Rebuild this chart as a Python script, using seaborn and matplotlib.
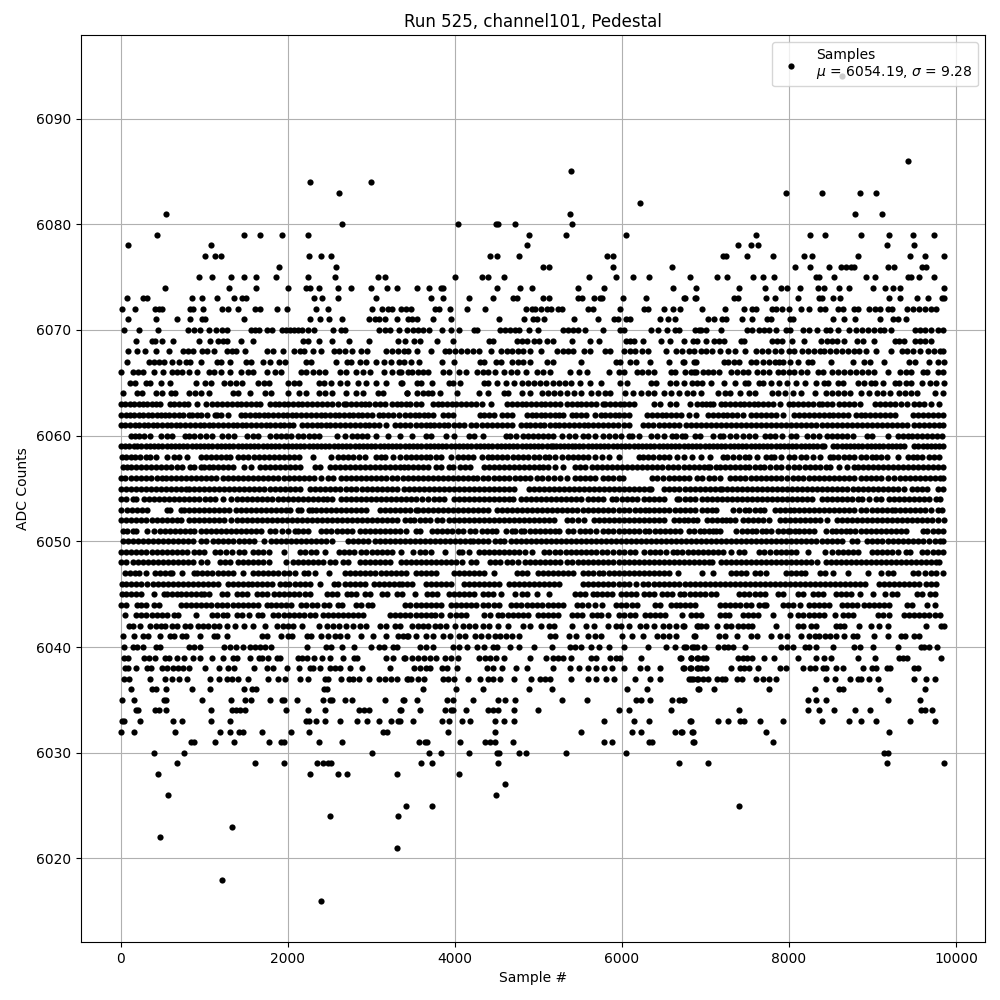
import matplotlib
matplotlib.use("Agg")
import matplotlib.pyplot as plt
import numpy as np
import pandas as pd
import seaborn as sns

# Sample numbers for each ADC level (adc_<level>). Levels outside 6043-6063 were
# read dot by dot from zoomed crops. Levels 6043-6063 are too dense for that: they
# are hand estimates of where the runs and gaps fall, not individual readings.
adc_6094 = [8631]
adc_6086 = [9423]
adc_6085 = [5397]
adc_6084 = [2272, 2992]
adc_6083 = [2620, 7959, 8391, 8847, 9039]
adc_6082 = [6213]
adc_6081 = [544, 5385, 8787, 9111]
adc_6080 = [2656, 4041, 4497, 4521, 4725, 5409]
adc_6079 = [436, 1480, 1672, 1936, 2248, 4893, 5337, 6045, 7611, 8247, 8427, 8859, 9195, 9483, 9735]
adc_6078 = [88, 1084, 4869, 7395, 7551, 7635, 9171, 9495]
adc_6077 = [1012, 1132, 1204, 2260, 2404, 2524, 4425, 4509, 4773, 5817, 5889, 7215, 7247, 7503, 7815, 8175, 8271, 8823, 9447, 9627, 9855]
adc_6076 = [1900, 2584, 5061, 5133, 5889, 6597, 8067, 8247, 8475, 8619, 8679, 8739, 8775, 9183, 9255, 9591, 9639]
adc_6075 = [940, 1096, 1324, 1480, 1624, 1864, 2248, 2572, 3076, 3160, 4005, 4329, 4401, 4593, 5601, 5925, 6129, 6321, 6813, 7143, 7263, 7575, 7695, 7827, 8319, 8355, 8535, 8919, 9027, 9423, 9459, 9555, 9735]
adc_6074 = [532, 1300, 1624, 2008, 2224, 2272, 2380, 2608, 2752, 2992, 3184, 3304, 3549, 3693, 3837, 3861, 4509, 4785, 4929, 5481, 5781, 6609, 6891, 7407, 7719, 7911, 7975, 8127, 8343, 8415, 8595, 8715, 9003, 9147, 9243, 9327, 9855]
adc_6073 = [76, 268, 316, 856, 976, 1156, 1360, 1456, 1504, 2320, 2416, 2608, 3052, 3717, 3861, 4173, 4461, 4701, 4749, 5061, 5133, 5481, 5529, 5661, 5733, 5757, 6009, 6285, 6747, 6753, 6879, 6885, 7347, 7395, 7731, 7839, 8103, 8355, 8391, 8523, 8607, 9195, 9327, 9531, 9663, 9831, 9855]
adc_6072 = [16, 172, 412, 460, 496, 832, 868, 988, 1216, 1288, 1408, 1612, 1672, 1876, 1996, 2344, 2488, 3004, 3124, 3196, 3244, 3352, 3413, 3477, 3765, 3813, 3945, 4149, 4365, 4857, 4929, 4965, 5037, 5109, 5157, 5241, 5289, 5589, 5649, 5973, 6261, 6309, 6501, 6609, 6693, 6963, 7239, 7467, 7563, 7611, 7803, 7851, 7923, 7995, 8139, 8235, 8367, 8427, 8583, 8643, 8775, 8823, 8955, 9027, 9087, 9183, 9231, 9411, 9483, 9555, 9627, 9699, 9759]
adc_6071 = [88, 424, 676, 832, 976, 1012, 1480, 2272, 2392, 2496, 2656, 2968, 3040, 3088, 3160, 3304, 3441, 3489, 3549, 3741, 3957, 4533, 4833, 4941, 4989, 5073, 5433, 5709, 5901, 5949, 6045, 6093, 6453, 6549, 6633, 7035, 7107, 7203, 7251, 7443, 7563, 7743, 7791, 8007, 8043, 8523, 8655, 8787, 9087, 9243, 9303, 9399]
adc_6070 = [40, 220, 448, 808, 880, 952, 1060, 1144, 1216, 1276, 1564, 1612, 1660, 1756, 1816, 1936, 1984, 2032, 2080, 2128, 2176, 2248, 2320, 2548, 2644, 2692, 3088, 3160, 3220, 3328, 3424, 3501, 3561, 3621, 3693, 3849, 3957, 4053, 4233, 4269, 4545, 4605, 4665, 4725, 4773, 4893, 5001, 5301, 5361, 5421, 5481, 5553, 5769, 5973, 6021, 6345, 6429, 6537, 6633, 6681, 6873, 6921, 6951, 7011, 7191, 7503, 7563, 7647, 7707, 7767, 7851, 7959, 8007, 8163, 8235, 8331, 8439, 8487, 8583, 8715, 8799, 8871, 8943, 9015, 9087, 9135, 9219, 9507, 9567, 9627, 9699, 9783, 9850]
adc_6069 = [184, 376, 412, 496, 628, 940, 1072, 1168, 1228, 1276, 1444, 1588, 2188, 2248, 2380, 2536, 2728, 2968, 3316, 3400, 3513, 3585, 3789, 3981, 4413, 4461, 4749, 4809, 4869, 4953, 5013, 5109, 5181, 5409, 5613, 5721, 6045, 6093, 6141, 6249, 6465, 6573, 6741, 6855, 6903, 7011, 7107, 7167, 7227, 7431, 7467, 7803, 7863, 7923, 8031, 8175, 8379, 8451, 8511, 8571, 8655, 8811, 8883, 9015, 9267, 9315, 9375, 9507, 9567, 9627, 9699]
adc_6068 = [88, 196, 292, 424, 580, 748, 808, 868, 976, 1036, 1120, 1276, 1336, 1384, 1492, 1756, 1828, 1948, 2080, 2152, 2200, 2308, 2404, 2560, 2620, 2692, 2764, 2872, 2944, 3172, 3244, 3316, 3393, 3441, 3549, 3717, 3885, 3933, 4005, 4077, 4149, 4221, 4293, 4437, 4557, 4629, 4689, 4761, 4821, 4905, 5037, 5229, 5301, 5361, 5421, 5541, 5613, 5793, 5853, 6021, 6093, 6153, 6237, 6309, 6525, 6645, 6717, 6801, 6861, 6951, 7011, 7083, 7179, 7275, 7359, 7479, 7611, 7683, 7755, 7839, 7911, 7995, 8055, 8151, 8223, 8295, 8367, 8415, 8487, 8559, 8631, 8703, 8775, 8835, 8919, 9039, 9227, 9351, 9411, 9483, 9567, 9663, 9735, 9807, 9850]
adc_6067 = [76, 340, 400, 460, 520, 616, 700, 784, 832, 964, 1156, 1204, 1312, 1504, 1564, 1708, 1792, 1900, 1972, 2224, 2284, 2584, 2716, 2752, 2860, 2940, 3052, 3148, 3240, 3328, 3393, 3477, 3573, 3849, 3993, 4305, 4353, 4497, 4557, 4689, 4761, 4821, 4905, 5109, 5181, 5517, 5925, 5973, 6093, 6165, 6333, 6561, 6735, 6741, 6867, 6885, 7227, 7275, 7347, 7407, 7551, 7611, 7695, 7767, 7839, 7887, 7935, 8007, 8103, 8223, 8271, 8499, 8763, 8895, 8967, 9135, 9435, 9507, 9675, 9783, 9855]
adc_6066 = [4, 148, 208, 268, 400, 508, 616, 676, 736, 820, 916, 1060, 1120, 1204, 1312, 1444, 1528, 1588, 1756, 1852, 1924, 2164, 2224, 2308, 2380, 2452, 2632, 2704, 2812, 2896, 2980, 3148, 3244, 3332, 3357, 3436, 3489, 3561, 3621, 3681, 3861, 3933, 4053, 4137, 4269, 4341, 4401, 4485, 4593, 4677, 4749, 4857, 4989, 5061, 5145, 5385, 5493, 5577, 5841, 5961, 6021, 6177, 6237, 6309, 6381, 6585, 6633, 6753, 6825, 6867, 6885, 6975, 7035, 7095, 7167, 7311, 7383, 7455, 7515, 7623, 7695, 7767, 7875, 7935, 7995, 8055, 8139, 8211, 8343, 8403, 8511, 8583, 8655, 8727, 8799, 8871, 8943, 9015, 9183, 9327, 9399, 9459, 9603, 9651, 9783, 9843]
adc_6065 = [112, 172, 304, 352, 484, 592, 904, 1012, 1084, 1240, 1312, 1384, 1456, 1648, 1720, 1780, 2008, 2080, 2140, 2380, 2440, 2524, 2632, 2716, 2836, 2932, 3052, 3172, 3357, 3364, 3549, 3597, 3729, 3933, 3981, 4065, 4353, 4401, 4509, 4617, 4713, 4809, 4881, 4953, 5025, 5097, 5181, 5253, 5325, 5397, 5505, 5613, 5745, 5973, 6057, 6345, 6405, 6573, 6645, 6741, 6843, 6897, 6963, 7071, 7227, 7359, 7479, 7515, 7647, 7695, 7791, 7887, 7975, 8079, 8195, 8319, 8415, 8463, 8583, 8643, 8823, 8895, 8979, 9027, 9123, 9267, 9315, 9399, 9459, 9591, 9687, 9759, 9855]
adc_6064 = [28, 196, 256, 424, 496, 604, 652, 820, 892, 964, 1060, 1348, 1408, 1552, 1732, 1804, 2008, 2140, 2224, 2380, 2452, 2536, 2704, 2812, 2896, 3076, 3136, 3424, 3429, 3549, 3621, 3681, 3729, 3825, 4029, 4293, 4401, 4593, 4641, 4809, 4905, 5049, 5121, 5193, 5265, 5349, 5433, 5517, 5625, 5709, 5793, 5853, 6033, 6129, 6225, 6309, 6381, 6501, 6585, 6681, 6783, 6855, 6951, 7155, 7239, 7299, 7419, 7527, 7599, 7803, 7875, 7947, 8043, 8139, 8307, 8439, 8511, 8583, 8655, 8727, 8859, 8955, 9051, 9123, 9207, 9315, 9387, 9459, 9531, 9747, 9843]
adc_6063 = [4, 56, 108, 160, 216, 268, 320, 372, 424, 470, 590, 645, 700, 755, 810, 916, 1028, 1090, 1150, 1210, 1270, 1330, 1390, 1445, 1500, 1560, 1615, 1670, 1790, 1845, 1900, 1950, 2005, 2060, 2120, 2175, 2230, 2290, 2350, 2410, 2470, 2530, 2600, 2670, 2700, 2760, 2815, 2875, 2930, 2970, 3040, 3110, 3160, 3250, 3310, 3360, 3415, 3470, 3530, 3600, 3740, 3795, 3850, 3910, 3965, 4020, 4080, 4135, 4200, 4260, 4330, 4430, 4630, 4685, 4740, 4800, 4855, 4915, 4970, 5030, 5085, 5140, 5200, 5255, 5340, 5400, 5460, 5515, 5575, 5630, 5690, 5780, 5800, 5860, 5915, 5975, 6030, 6085, 6140, 6380, 6460, 6580, 6650, 6820, 6900, 6955, 7010, 7055, 7095, 7183, 7235, 7295, 7350, 7410, 7465, 7520, 7580, 7635, 7695, 7750, 7810, 7895, 7995, 8050, 8110, 8170, 8225, 8285, 8355, 8395, 8455, 8515, 8595, 8655, 8715, 8780, 8855, 9035, 9090, 9150, 9205, 9265, 9340, 9415, 9495, 9555, 9615, 9695, 9795]
adc_6062 = [8, 60, 112, 165, 220, 272, 325, 380, 432, 480, 530, 585, 640, 695, 745, 815, 860, 915, 965, 1040, 1125, 1150, 1205, 1285, 1440, 1495, 1550, 1605, 1660, 1715, 1770, 1825, 1880, 1940, 1995, 2050, 2105, 2160, 2215, 2275, 2340, 2395, 2450, 2510, 2565, 2620, 2675, 2730, 2785, 2840, 2895, 2950, 3005, 3090, 3145, 3200, 3255, 3330, 3410, 3465, 3520, 3575, 3630, 3680, 3740, 3860, 3920, 3975, 4300, 4355, 4415, 4470, 4570, 4625, 4685, 4865, 4920, 4975, 5030, 5085, 5140, 5195, 5250, 5300, 5400, 5455, 5510, 5565, 5680, 5745, 5800, 5860, 5915, 5970, 6030, 6090, 6300, 6360, 6415, 6475, 6530, 6590, 6645, 6710, 6800, 6890, 7035, 7090, 7150, 7205, 7260, 7320, 7380, 7450, 7550, 7610, 7670, 7730, 7790, 7850, 7930, 8060, 8125, 8185, 8240, 8300, 8355, 8415, 8475, 8530, 8590, 8650, 8710, 8800, 8860, 8915, 8975, 9030, 9090, 9145, 9205, 9270, 9480, 9540, 9600, 9660, 9730, 9790, 9850]
adc_6061 = [4, 55, 110, 170, 225, 275, 330, 385, 440, 495, 550, 605, 660, 715, 770, 830, 885, 945, 1000, 1060, 1110, 1170, 1225, 1285, 1340, 1395, 1450, 1505, 1560, 1620, 1680, 1735, 1790, 1850, 1905, 1960, 2015, 2060, 2175, 2230, 2290, 2345, 2400, 2455, 2510, 2570, 2630, 2690, 2745, 2800, 2860, 2920, 2975, 3030, 3090, 3180, 3280, 3340, 3400, 3460, 3530, 3590, 3650, 3700, 3750, 3810, 3870, 3925, 3985, 4045, 4110, 4200, 4260, 4325, 4385, 4445, 4510, 4570, 4630, 4690, 4790, 4850, 4905, 4960, 5020, 5070, 5140, 5200, 5250, 5310, 5370, 5425, 5485, 5545, 5600, 5660, 5715, 5775, 5835, 5895, 5950, 6020, 6090, 6250, 6310, 6370, 6440, 6500, 6560, 6620, 6680, 6770, 6830, 6890, 6950, 7010, 7070, 7130, 7190, 7250, 7310, 7370, 7430, 7490, 7550, 7610, 7670, 7730, 7790, 7850, 7910, 7970, 8030, 8090, 8150, 8210, 8270, 8330, 8390, 8450, 8510, 8570, 8630, 8690, 8750, 8810, 8870, 8930, 8990, 9050, 9110, 9170, 9230, 9290, 9350, 9410, 9500, 9560, 9620, 9680, 9740, 9800, 9850]
adc_6060 = [120, 175, 225, 285, 350, 480, 550, 620, 770, 820, 880, 950, 1020, 1100, 1210, 1290, 1360, 1510, 1590, 1640, 1790, 1860, 1920, 1985, 2045, 2120, 2185, 2250, 2310, 2380, 2590, 2690, 2770, 2830, 2890, 2950, 3060, 3200, 3340, 3490, 3650, 3710, 3900, 3990, 4170, 4230, 4340, 4610, 4665, 4730, 4820, 4880, 4940, 5000, 5060, 5120, 5180, 5280, 5370, 5440, 5530, 5600, 5680, 5780, 5850, 5920, 5990, 6080, 6120, 6200, 6350, 6420, 6500, 6600, 6650, 6720, 6760, 6880, 6930, 7090, 7170, 7210, 7290, 7370, 7450, 7520, 7590, 7710, 7770, 7830, 7920, 8030, 8090, 8220, 8290, 8360, 8460, 8520, 8580, 8640, 8700, 8770, 8940, 9000, 9190, 9300, 9360, 9420, 9470, 9530, 9590, 9650, 9710, 9770, 9830]
adc_6059 = [0, 50, 100, 160, 200, 250, 300, 350, 400, 450, 500, 550, 600, 650, 700, 750, 800, 850, 900, 950, 1000, 1050, 1100, 1150, 1200, 1250, 1300, 1350, 1400, 1450, 1500, 1550, 1600, 1650, 1700, 1750, 1800, 1850, 1900, 1950, 2000, 2050, 2100, 2150, 2200, 2250, 2300, 2350, 2400, 2450, 2500, 2550, 2600, 2650, 2700, 2750, 2800, 2850, 2900, 2950, 3000, 3050, 3100, 3150, 3200, 3250, 3300, 3350, 3400, 3450, 3500, 3550, 3600, 3650, 3700, 3750, 3800, 3850, 3900, 3950, 4000, 4050, 4100, 4150, 4200, 4250, 4300, 4350, 4400, 4450, 4500, 4550, 4600, 4650, 4700, 4750, 4800, 4850, 4900, 4950, 5000, 5050, 5100, 5150, 5170, 5210, 5260, 5310, 5360, 5400, 5440, 5490, 5540, 5590, 5640, 5690, 5740, 5790, 5840, 5890, 5940, 5990, 6040, 6090, 6140, 6190, 6240, 6290, 6340, 6390, 6440, 6490, 6540, 6590, 6640, 6690, 6740, 6790, 6840, 6890, 6940, 6990, 7040, 7090, 7140, 7190, 7240, 7290, 7340, 7390, 7440, 7490, 7540, 7590, 7640, 7690, 7740, 7790, 7840, 7890, 7940, 7990, 8040, 8090, 8140, 8190, 8240, 8290, 8340, 8400, 8420, 8530, 8580, 8630, 8680, 8730, 8780, 8830, 8880, 8930, 8980, 9030, 9080, 9130, 9180, 9230, 9280, 9330, 9380, 9500, 9550, 9600, 9650, 9700, 9750, 9800, 9850]
adc_6058 = [20, 70, 130, 170, 230, 300, 350, 420, 550, 640, 700, 800, 960, 1020, 1080, 1140, 1200, 1260, 1310, 1400, 1460, 1520, 1600, 1660, 1720, 1780, 1840, 1900, 1950, 2010, 2070, 2140, 2300, 2520, 2600, 2660, 2720, 2780, 2850, 2930, 3060, 3120, 3170, 3260, 3340, 3420, 3480, 3540, 3600, 3660, 3700, 3780, 3840, 3960, 4040, 4100, 4160, 4220, 4330, 4400, 4450, 4510, 4570, 4630, 4700, 4760, 4820, 4880, 4950, 5010, 5080, 5130, 5200, 5280, 5360, 5420, 5480, 5540, 5600, 5680, 5760, 5850, 5960, 6210, 6250, 6310, 6370, 6440, 6510, 6560, 6660, 6740, 6840, 6950, 7060, 7210, 7260, 7330, 7400, 7470, 7520, 7620, 7720, 7780, 7820, 7900, 8000, 8060, 8140, 8200, 8290, 8370, 8490, 8530, 8590, 8660, 8720, 8780, 8860, 8920, 8990, 9040, 9100, 9170, 9300, 9420, 9480, 9530, 9590, 9680, 9740, 9800]
adc_6057 = [30, 80, 130, 190, 240, 300, 360, 420, 480, 540, 600, 670, 730, 830, 880, 960, 1000, 1060, 1110, 1170, 1230, 1290, 1350, 1480, 1560, 1670, 1730, 1790, 1850, 1910, 1970, 2030, 2090, 2150, 2330, 2390, 2510, 2570, 2630, 2690, 2750, 2810, 2860, 2930, 2990, 3050, 3110, 3170, 3220, 3280, 3340, 3390, 3440, 3500, 3560, 3620, 3680, 3780, 3830, 3930, 3980, 4060, 4120, 4180, 4350, 4410, 4470, 4530, 4590, 4650, 4710, 4770, 4830, 4890, 4950, 5010, 5060, 5120, 5200, 5290, 5440, 5500, 5560, 5640, 5700, 5760, 5820, 5880, 5940, 6000, 6060, 6120, 6180, 6240, 6300, 6360, 6420, 6480, 6550, 6610, 6670, 6740, 6800, 6860, 6920, 6980, 7030, 7060, 7130, 7180, 7240, 7300, 7350, 7410, 7470, 7520, 7590, 7650, 7700, 7770, 7840, 7910, 7990, 8060, 8120, 8190, 8250, 8310, 8370, 8440, 8490, 8600, 8700, 8780, 8830, 8890, 8950, 9010, 9070, 9130, 9190, 9250, 9310, 9370, 9430, 9490, 9550, 9610, 9670, 9730, 9790, 9840]
adc_6056 = [0, 50, 120, 180, 240, 300, 360, 440, 500, 540, 600, 660, 720, 780, 840, 900, 960, 1020, 1080, 1140, 1220, 1280, 1340, 1400, 1460, 1530, 1590, 1650, 1710, 1770, 1830, 1890, 1950, 2010, 2070, 2130, 2190, 2250, 2310, 2400, 2480, 2540, 2640, 2700, 2760, 2820, 2880, 2940, 3000, 3060, 3120, 3180, 3250, 3310, 3380, 3440, 3500, 3560, 3620, 3680, 3740, 3800, 3860, 3920, 3980, 4040, 4100, 4160, 4220, 4270, 4340, 4400, 4470, 4530, 4590, 4650, 4720, 4780, 4840, 4900, 4990, 5050, 5120, 5190, 5260, 5340, 5440, 5500, 5560, 5620, 5680, 5780, 5840, 5900, 5960, 6010, 6360, 6420, 6490, 6560, 6620, 6680, 6740, 6800, 6900, 6960, 7040, 7100, 7180, 7290, 7360, 7420, 7480, 7540, 7600, 7660, 7720, 7780, 7840, 7900, 7980, 8050, 8110, 8170, 8240, 8300, 8360, 8420, 8480, 8540, 8600, 8660, 8720, 8780, 8860, 8920, 8980, 9040, 9100, 9180, 9260, 9330, 9390, 9450, 9510, 9570, 9630, 9690, 9750, 9810, 9850]
adc_6055 = [0, 60, 120, 180, 240, 300, 360, 420, 480, 540, 600, 660, 720, 780, 820, 880, 940, 1000, 1060, 1120, 1180, 1240, 1300, 1360, 1420, 1480, 1540, 1600, 1660, 1720, 1790, 1850, 1910, 1970, 2030, 2090, 2150, 2270, 2330, 2390, 2450, 2510, 2570, 2630, 2700, 2760, 2820, 2890, 2950, 3010, 3070, 3130, 3190, 3250, 3310, 3390, 3450, 3510, 3570, 3630, 3690, 3750, 3810, 3870, 3930, 3990, 4050, 4110, 4170, 4230, 4290, 4350, 4410, 4470, 4530, 4590, 4650, 4710, 4890, 4950, 5010, 5070, 5130, 5190, 5250, 5310, 5370, 5430, 5490, 5550, 5610, 5670, 5730, 5790, 5850, 5910, 5970, 6030, 6090, 6150, 6210, 6270, 6330, 6350, 6510, 6570, 6630, 6690, 6750, 6810, 6870, 6930, 6990, 7050, 7110, 7170, 7200, 7260, 7320, 7380, 7440, 7500, 7560, 7620, 7680, 7740, 7800, 7860, 7920, 7980, 8040, 8100, 8160, 8220, 8280, 8340, 8400, 8460, 8520, 8580, 8640, 8700, 8770, 8830, 8890, 8950, 9010, 9070, 9130, 9190, 9250, 9310, 9380, 9470, 9530, 9590, 9650, 9780, 9840]
adc_6054 = [10, 60, 150, 190, 280, 340, 400, 460, 520, 580, 640, 700, 760, 820, 880, 940, 1010, 1070, 1130, 1220, 1320, 1390, 1450, 1510, 1570, 1630, 1690, 1750, 1810, 1880, 1940, 2000, 2060, 2120, 2180, 2240, 2300, 2360, 2420, 2470, 2530, 2640, 2700, 2760, 2820, 2880, 2940, 3000, 3060, 3120, 3180, 3240, 3300, 3360, 3420, 3480, 3540, 3610, 3680, 3750, 3810, 3870, 3990, 4050, 4110, 4170, 4230, 4290, 4350, 4410, 4470, 4530, 4590, 4650, 4700, 4790, 4850, 4910, 4970, 5030, 5090, 5150, 5210, 5270, 5330, 5390, 5450, 5510, 5600, 5660, 5720, 5780, 5880, 5930, 6000, 6060, 6120, 6180, 6260, 6330, 6390, 6450, 6510, 6660, 6690, 6760, 6820, 6880, 6960, 7020, 7080, 7140, 7200, 7260, 7320, 7380, 7440, 7500, 7560, 7620, 7680, 7740, 7800, 7860, 7920, 7980, 8040, 8100, 8160, 8220, 8280, 8390, 8450, 8510, 8580, 8640, 8700, 8760, 8830, 8880, 8960, 9040, 9100, 9200, 9260, 9320, 9380, 9440, 9500, 9560, 9620, 9680, 9760, 9810]
adc_6053 = [6, 80, 140, 200, 260, 320, 560, 590, 720, 760, 820, 880, 940, 1000, 1060, 1120, 1180, 1240, 1300, 1380, 1440, 1500, 1560, 1620, 1680, 1740, 1800, 1860, 1920, 1980, 2030, 2120, 2160, 2260, 2290, 2340, 2400, 2460, 2520, 2580, 2640, 2700, 2760, 2820, 2880, 2940, 3100, 3160, 3220, 3280, 3340, 3400, 3460, 3530, 3560, 3620, 3680, 3740, 3800, 3860, 3920, 3980, 4040, 4100, 4160, 4220, 4280, 4340, 4400, 4510, 4560, 4620, 4680, 4740, 4800, 4860, 4920, 4980, 5040, 5100, 5160, 5220, 5280, 5340, 5400, 5460, 5530, 5590, 5650, 5720, 5780, 5840, 5900, 5960, 6020, 6080, 6160, 6220, 6280, 6320, 6380, 6450, 6510, 6570, 6640, 6700, 6760, 6820, 6880, 6960, 7020, 7080, 7130, 7330, 7400, 7470, 7520, 7590, 7650, 7700, 7830, 7890, 7950, 8010, 8060, 8120, 8180, 8240, 8300, 8360, 8420, 8480, 8540, 8600, 8660, 8720, 8780, 8860, 8920, 8990, 9050, 9110, 9170, 9230, 9270, 9330, 9390, 9450, 9510, 9570, 9630, 9700, 9780, 9830]
adc_6052 = [10, 70, 130, 190, 250, 310, 370, 430, 490, 550, 610, 670, 720, 820, 880, 940, 1000, 1060, 1120, 1180, 1240, 1320, 1390, 1450, 1510, 1570, 1630, 1690, 1750, 1810, 1870, 1930, 1990, 2050, 2110, 2170, 2230, 2290, 2350, 2410, 2470, 2530, 2590, 2650, 2710, 2770, 2830, 2890, 2950, 3010, 3070, 3130, 3190, 3250, 3310, 3400, 3460, 3510, 3580, 3640, 3700, 3790, 3850, 3930, 3990, 4050, 4110, 4170, 4230, 4290, 4350, 4410, 4470, 4530, 4590, 4650, 4710, 4770, 4830, 4890, 4950, 5010, 5070, 5130, 5190, 5340, 5400, 5480, 5550, 5670, 5730, 5790, 5850, 5910, 5970, 6030, 6090, 6150, 6210, 6270, 6330, 6390, 6450, 6510, 6620, 6680, 6740, 6790, 6850, 6900, 7020, 7080, 7140, 7200, 7250, 7300, 7350, 7450, 7510, 7570, 7630, 7690, 7760, 7890, 7950, 8010, 8070, 8130, 8190, 8250, 8310, 8370, 8460, 8570, 8630, 8690, 8750, 8810, 8870, 8930, 8990, 9050, 9110, 9170, 9230, 9290, 9350, 9410, 9470, 9530, 9590, 9650, 9710, 9790, 9855]
adc_6051 = [30, 80, 150, 190, 320, 400, 470, 530, 590, 650, 710, 770, 830, 880, 960, 1020, 1080, 1140, 1200, 1260, 1320, 1380, 1440, 1500, 1560, 1620, 1680, 1790, 1850, 1930, 2000, 2090, 2120, 2180, 2240, 2400, 2460, 2520, 2590, 2650, 2710, 2770, 2860, 2920, 2980, 3040, 3110, 3170, 3230, 3290, 3350, 3420, 3530, 3580, 3730, 3790, 3850, 3910, 3970, 4040, 4100, 4180, 4240, 4330, 4390, 4450, 4490, 4610, 4680, 4720, 4790, 4830, 4900, 4960, 5020, 5080, 5140, 5200, 5250, 5360, 5420, 5500, 5560, 5620, 5690, 5780, 5840, 5900, 5960, 6020, 6080, 6150, 6210, 6280, 6330, 6400, 6460, 6520, 6580, 6640, 6700, 6800, 6860, 6930, 6980, 7040, 7090, 7130, 7180, 7370, 7440, 7500, 7560, 7610, 7680, 7730, 7790, 7870, 7930, 7990, 8010, 8070, 8120, 8180, 8240, 8300, 8440, 8510, 8560, 8620, 8680, 8730, 8790, 8860, 8920, 8980, 9040, 9100, 9160, 9220, 9280, 9340, 9400, 9600, 9650, 9720, 9790, 9840]
adc_6050 = [30, 90, 150, 210, 270, 330, 390, 450, 510, 570, 630, 690, 750, 810, 870, 960, 1020, 1110, 1170, 1230, 1290, 1350, 1420, 1480, 1540, 1600, 1720, 1800, 1860, 1920, 1980, 2040, 2100, 2160, 2220, 2280, 2340, 2400, 2460, 2530, 2720, 2780, 2840, 2900, 2960, 3040, 3100, 3160, 3220, 3280, 3340, 3400, 3460, 3520, 3580, 3640, 3700, 3760, 3820, 3880, 3940, 4000, 4060, 4120, 4180, 4220, 4280, 4340, 4400, 4480, 4540, 4590, 4670, 4730, 4790, 4850, 4910, 4970, 5030, 5090, 5150, 5210, 5270, 5330, 5390, 5450, 5510, 5570, 5630, 5690, 5750, 5810, 5870, 5930, 5990, 6050, 6110, 6170, 6230, 6290, 6350, 6410, 6470, 6530, 6590, 6650, 6710, 6770, 6830, 6890, 6950, 7010, 7070, 7130, 7190, 7250, 7310, 7370, 7430, 7490, 7550, 7610, 7670, 7730, 7790, 7850, 7910, 7970, 8030, 8090, 8150, 8210, 8270, 8330, 8390, 8450, 8510, 8570, 8630, 8760, 8820, 8940, 9000, 9060, 9120, 9180, 9240, 9300, 9360, 9430, 9490, 9550, 9610, 9680, 9750, 9810, 9850]
adc_6049 = [0, 60, 120, 180, 240, 300, 370, 430, 490, 560, 620, 680, 740, 800, 880, 940, 1000, 1130, 1190, 1260, 1330, 1420, 1480, 1590, 1650, 1710, 1780, 1960, 2150, 2210, 2280, 2340, 2450, 2610, 2670, 2730, 2790, 2880, 2940, 3010, 3070, 3130, 3190, 3250, 3360, 3500, 3580, 3640, 3720, 3880, 4050, 4090, 4170, 4290, 4350, 4410, 4470, 4530, 4590, 4650, 4710, 4770, 4840, 4930, 5070, 5130, 5200, 5260, 5330, 5390, 5450, 5510, 5570, 5630, 5690, 5760, 5820, 5900, 5960, 6020, 6100, 6160, 6260, 6340, 6400, 6460, 6530, 6610, 6660, 6720, 6790, 6850, 6910, 6970, 7030, 7090, 7150, 7210, 7310, 7400, 7460, 7640, 7700, 7770, 7840, 7910, 7970, 8030, 8090, 8230, 8430, 8510, 8590, 8650, 8710, 8770, 8830, 8990, 9050, 9110, 9170, 9230, 9300, 9400, 9450, 9590, 9650, 9720, 9790, 9850]
adc_6048 = [0, 60, 150, 210, 270, 330, 390, 450, 510, 570, 630, 690, 750, 810, 870, 960, 1030, 1190, 1250, 1310, 1410, 1470, 1530, 1590, 1650, 1710, 1780, 1980, 2060, 2120, 2180, 2240, 2300, 2360, 2420, 2510, 2570, 2660, 2720, 2860, 2920, 2980, 3040, 3100, 3160, 3220, 3360, 3420, 3480, 3540, 3600, 3660, 3720, 3780, 3840, 3900, 3960, 4020, 4090, 4190, 4250, 4420, 4480, 4540, 4620, 4680, 4760, 4840, 4900, 4960, 5020, 5080, 5140, 5200, 5260, 5340, 5400, 5480, 5540, 5600, 5660, 5720, 5780, 5840, 5900, 5960, 6020, 6080, 6140, 6200, 6260, 6320, 6380, 6440, 6500, 6560, 6620, 6680, 6740, 6800, 6860, 6920, 6980, 7040, 7080, 7190, 7250, 7310, 7370, 7430, 7490, 7550, 7610, 7670, 7730, 7790, 7850, 7910, 7970, 8030, 8090, 8150, 8210, 8270, 8340, 8440, 8500, 8560, 8620, 8680, 8740, 8800, 8860, 8920, 8980, 9040, 9100, 9160, 9220, 9280, 9340, 9400, 9460, 9520, 9580, 9640, 9700, 9760, 9800]
adc_6047 = [50, 110, 170, 220, 300, 410, 470, 530, 590, 610, 740, 880, 920, 980, 1040, 1100, 1160, 1220, 1280, 1340, 1470, 1580, 1640, 1700, 1760, 1820, 1880, 1960, 2010, 2090, 2190, 2240, 2330, 2490, 2690, 2750, 2810, 2870, 2930, 2990, 3050, 3120, 3180, 3240, 3300, 3360, 3420, 3540, 3600, 3660, 3720, 3780, 3990, 4050, 4110, 4170, 4230, 4290, 4350, 4470, 4740, 4810, 4870, 5000, 5060, 5120, 5180, 5240, 5300, 5360, 5420, 5530, 5590, 5650, 5730, 5780, 5850, 5910, 5970, 6030, 6090, 6150, 6210, 6270, 6330, 6390, 6450, 6510, 6570, 6670, 6960, 7090, 7310, 7370, 7430, 7490, 7590, 7650, 7730, 7960, 8020, 8080, 8140, 8190, 8370, 8430, 8530, 8710, 8950, 9100, 9180, 9240, 9490, 9550, 9630, 9700, 9760, 9840]
adc_6046 = [20, 70, 130, 190, 240, 320, 390, 450, 510, 570, 630, 690, 750, 810, 870, 930, 990, 1050, 1110, 1170, 1280, 1340, 1400, 1460, 1520, 1570, 1630, 1690, 1750, 1810, 1910, 1970, 2020, 2090, 2150, 2210, 2270, 2390, 2550, 2600, 2690, 2750, 2810, 2870, 2930, 3030, 3090, 3150, 3210, 3270, 3330, 3370, 3430, 3490, 3650, 3710, 3770, 3830, 3890, 3960, 4110, 4170, 4230, 4290, 4350, 4410, 4470, 4530, 4650, 4710, 4770, 4830, 4890, 4950, 5010, 5070, 5130, 5190, 5250, 5540, 5600, 5660, 5720, 5780, 5840, 5900, 5960, 6020, 6080, 6170, 6250, 6310, 6390, 6450, 6510, 6570, 6630, 6690, 6750, 6810, 6870, 6930, 6990, 7050, 7110, 7170, 7230, 7290, 7350, 7410, 7470, 7530, 7590, 7650, 7710, 7770, 7830, 7890, 7950, 8010, 8070, 8130, 8190, 8250, 8310, 8370, 8430, 8490, 8550, 8610, 8670, 8730, 8790, 8850, 8910, 9080, 9140, 9200, 9260, 9320, 9380, 9440, 9500, 9560, 9640, 9700, 9760]
adc_6045 = [20, 70, 130, 190, 240, 400, 520, 560, 620, 670, 720, 780, 840, 900, 960, 1000, 1060, 1210, 1270, 1390, 1450, 1510, 1630, 1690, 1750, 1840, 1900, 1960, 2010, 2070, 2130, 2210, 2270, 2470, 2530, 2590, 2710, 2760, 2820, 2920, 2990, 3130, 3190, 3310, 3370, 3520, 3670, 3730, 3790, 3930, 3990, 4050, 4110, 4170, 4230, 4340, 4400, 4460, 4550, 4720, 4800, 4860, 4990, 5130, 5440, 5500, 5560, 5650, 5700, 5760, 5820, 5880, 5990, 6050, 6110, 6170, 6270, 6330, 6390, 6480, 6540, 6600, 6700, 6740, 6810, 6880, 6940, 7000, 7070, 7130, 7400, 7460, 7520, 7590, 7650, 7710, 7870, 7930, 8110, 8170, 8290, 8350, 8410, 8560, 8620, 8680, 8740, 8850, 9010, 9150, 9230, 9290, 9530, 9590, 9690, 9750]
adc_6044 = [0, 60, 200, 250, 310, 400, 460, 720, 780, 840, 900, 960, 1020, 1080, 1150, 1210, 1270, 1350, 1410, 1470, 1530, 1590, 1650, 1750, 1800, 1860, 1920, 1980, 2040, 2160, 2220, 2290, 2350, 2430, 2500, 2600, 2650, 2820, 2880, 2960, 3010, 3410, 3470, 3530, 3590, 3650, 3710, 3780, 3840, 3960, 4020, 4080, 4140, 4200, 4260, 4340, 4400, 4470, 4530, 4670, 4730, 4790, 4860, 4920, 4990, 5050, 5120, 5180, 5240, 5300, 5460, 5520, 5590, 5680, 5760, 5930, 5990, 6050, 6120, 6180, 6400, 6460, 6590, 6650, 6700, 6750, 6810, 6870, 7170, 7230, 7290, 7350, 7410, 7490, 7550, 7640, 7700, 7730, 7930, 7990, 8050, 8130, 8240, 8300, 8360, 8420, 8480, 8630, 8690, 8750, 8810, 8900, 8960, 9020, 9080, 9140, 9200, 9410, 9470, 9650, 9750]
adc_6043 = [50, 190, 240, 300, 370, 440, 490, 550, 640, 690, 900, 1090, 1150, 1220, 1270, 1390, 1450, 1540, 1640, 1690, 1830, 1890, 1950, 2010, 2070, 2130, 2190, 2270, 2330, 2420, 2480, 2540, 2600, 2660, 2720, 2780, 2840, 2900, 3220, 3290, 3350, 3410, 3470, 3530, 3590, 3650, 3710, 3760, 3840, 3940, 4010, 4070, 4130, 4350, 4420, 4520, 4570, 4640, 4700, 4760, 4820, 4880, 5000, 5060, 5120, 5180, 5240, 5400, 5460, 5520, 5640, 5700, 5750, 5830, 5970, 6030, 6100, 6160, 6280, 6340, 6400, 6460, 6520, 6720, 6830, 6890, 6950, 7170, 7230, 7280, 7450, 7510, 7570, 7630, 7810, 8010, 8110, 8170, 8240, 8300, 8360, 8420, 8550, 8650, 8710, 8770, 9070, 9130, 9200, 9380, 9440, 9500, 9560, 9620, 9680, 9750, 9810]
adc_6042 = [100, 148, 232, 352, 424, 484, 532, 616, 676, 772, 832, 928, 988, 1048, 1120, 1180, 1276, 1372, 1480, 1588, 1732, 1876, 1948, 2008, 2068, 2168, 2372, 2476, 2548, 2620, 2704, 2776, 2860, 2932, 3100, 3172, 3280, 3340, 3489, 3561, 3621, 3681, 3765, 3825, 3897, 4005, 4101, 4173, 4245, 4341, 4413, 4521, 4641, 4821, 4905, 5037, 5133, 5193, 5409, 5565, 5661, 5829, 5925, 5985, 6081, 6213, 6285, 6381, 6489, 6561, 6645, 6735, 6741, 6903, 6909, 6951, 7011, 7143, 7251, 7311, 7395, 7455, 7515, 7563, 7851, 8103, 8163, 8259, 8319, 8559, 8607, 8655, 8835, 8979, 9075, 9183, 9639, 9819, 9855]
adc_6041 = [28, 160, 268, 328, 472, 592, 640, 736, 784, 952, 1120, 1156, 1276, 1696, 1756, 1924, 2008, 2056, 2236, 2284, 2404, 2488, 2572, 2632, 2716, 2872, 3016, 3172, 3316, 3381, 3424, 3441, 3537, 3657, 3741, 3861, 3945, 4053, 4125, 4245, 4317, 4401, 4485, 4545, 4617, 4689, 4773, 5145, 5205, 5373, 5457, 5589, 5673, 5745, 5997, 6117, 6249, 6417, 6489, 6561, 6645, 6867, 6873, 7167, 7239, 7383, 7551, 7623, 7791, 7899, 7971, 8139, 8235, 8307, 8355, 8427, 8487, 8559, 8655, 8763, 8811, 9015, 9183, 9339, 9387, 9495, 9555]
adc_6040 = [40, 148, 196, 268, 424, 472, 820, 880, 952, 1240, 1312, 1384, 1468, 1552, 1612, 1672, 1732, 1804, 2236, 2464, 2524, 2656, 2788, 2992, 3088, 3148, 3256, 3304, 3585, 3657, 3741, 3981, 4053, 4149, 4269, 4353, 4461, 4509, 4665, 4773, 4953, 5169, 5385, 5445, 5517, 5625, 5721, 5841, 6021, 6309, 6525, 6633, 6747, 6765, 6843, 6861, 6903, 6987, 7155, 7227, 7275, 7335, 7479, 7911, 7971, 8043, 8187, 8235, 8319, 8523, 8775, 8847, 9003, 9303, 9579, 9615, 9675, 9771]
adc_6039 = [40, 88, 280, 340, 412, 532, 580, 676, 760, 868, 952, 1096, 1228, 1348, 1396, 1552, 1660, 1696, 1768, 1876, 1912, 2128, 2176, 2236, 2320, 2416, 2512, 2668, 2788, 2824, 3172, 3256, 3393, 3400, 3489, 3561, 3633, 3705, 3777, 3885, 3957, 4041, 4293, 4365, 4425, 4497, 4593, 4905, 5097, 5181, 5241, 5301, 5397, 5625, 5685, 5853, 5925, 5973, 6225, 6693, 6711, 6825, 6831, 6903, 6909, 6975, 7011, 7395, 7455, 7503, 7563, 7707, 7827, 8103, 8319, 8415, 8499, 8823, 9027, 9315, 9363, 9411, 9819]
adc_6038 = [52, 88, 184, 316, 364, 496, 556, 628, 688, 748, 820, 1012, 1180, 1288, 1360, 1600, 1756, 1828, 1996, 2140, 2272, 2308, 2392, 2512, 2572, 2632, 2740, 2884, 3220, 3513, 3585, 3657, 3705, 3849, 3909, 4029, 4389, 4461, 4569, 4737, 4869, 5181, 5385, 5493, 5589, 5685, 5781, 5877, 6021, 6213, 6297, 6453, 6741, 6825, 6909, 6735, 6819, 6903, 6951, 7011, 7311, 7419, 7467, 7527, 7635, 7899, 7959, 8163, 8247, 8307, 8403, 8439, 8559, 8643, 8883, 8991, 9039, 9171, 9207, 9495, 9543]
adc_6037 = [40, 100, 352, 532, 616, 700, 796, 1072, 1180, 1276, 1336, 1408, 1528, 1768, 1888, 1972, 2152, 2248, 2452, 2488, 2644, 2728, 2776, 2848, 2968, 3088, 3160, 3232, 3304, 3429, 3436, 3477, 3561, 3633, 3861, 3921, 3993, 4161, 4305, 4401, 4461, 4545, 4713, 4917, 5025, 5085, 5145, 5397, 5589, 5685, 5805, 5901, 6153, 6333, 6453, 6825, 6897, 6807, 6855, 6915, 6975, 7035, 7143, 7203, 7239, 7383, 7443, 7611, 7695, 7767, 7851, 8439, 8547, 8727, 8823, 8859, 8955, 9063, 9495, 9639, 9747]
adc_6036 = [124, 376, 424, 544, 856, 1072, 1480, 1576, 1624, 2440, 2476, 3621, 4017, 4341, 4893, 5169, 6057, 6297, 6921, 6915, 7107, 7767, 8307, 8595, 8643, 9087, 9627]
adc_6035 = [16, 160, 520, 544, 976, 1324, 1492, 1564, 1792, 1936, 1960, 2116, 2428, 2512, 2536, 2692, 2764, 3160, 3381, 3388, 3549, 3909, 3981, 4221, 4521, 4605, 4725, 5289, 5577, 6165, 6225, 6333, 6597, 6681, 6735, 6741, 8223, 8319, 8439, 9183, 9567]
adc_6034 = [184, 208, 412, 460, 544, 1084, 1336, 1384, 1432, 1492, 1984, 2248, 2452, 2848, 2908, 2968, 3349, 3352, 3585, 3885, 3957, 3981, 4137, 4401, 4461, 4521, 4713, 5001, 5961, 6081, 6585, 7407, 8223, 8355, 8535, 8787, 8967, 9579, 9627, 9711]
adc_6033 = [16, 40, 232, 628, 736, 1084, 1312, 2224, 2260, 2344, 2452, 2632, 2824, 2944, 3088, 3232, 3316, 3340, 3501, 3849, 3933, 4089, 4185, 4485, 4593, 4713, 5781, 6141, 6321, 6825, 6819, 7155, 7275, 7419, 7467, 7659, 7935, 8391, 8715, 8859, 9039, 9447, 9747]
adc_6032 = [4, 160, 652, 1192, 1312, 1420, 1468, 1696, 2044, 2260, 3136, 3184, 3921, 4485, 5517, 6117, 6225, 6633, 6717, 6849, 6711, 6843, 7731, 9195]
adc_6031 = [844, 880, 1132, 1360, 1780, 1924, 1960, 2380, 2656, 3573, 3645, 3669, 4065, 4365, 4425, 4485, 4701, 5781, 5877, 6321, 6357, 6861, 6855, 7815]
adc_6030 = [400, 760, 3004, 3693, 3837, 4173, 4501, 4533, 4773, 4857, 5337, 6045, 9135, 9183]
adc_6029 = [676, 1612, 1960, 2356, 2428, 2488, 2524, 3597, 3729, 4521, 6681, 7035, 9171, 9855]
adc_6028 = [448, 2272, 2608, 2716, 3304, 4053]
adc_6027 = [4605]
adc_6026 = [568, 4497]
adc_6025 = [3412, 3729, 7407]
adc_6024 = [2512, 3316]
adc_6023 = [1336]
adc_6022 = [472]
adc_6021 = [3304]
adc_6018 = [1216]
adc_6016 = [2404]

TITLE = "Run 525, channel101, Pedestal"
X_LABEL = "Sample #"
Y_LABEL = "ADC Counts"
SERIES_LABEL = "Samples\n$\\mu$ = 6054.19, $\\sigma$ = 9.28"

level_names = sorted(name for name in list(globals()) if name.startswith("adc_"))
frame = pd.concat(
    [pd.DataFrame({"sample": globals()[n], "adc": int(n[4:])}) for n in level_names],
    ignore_index=True,
)

fig, ax = plt.subplots(figsize=(10, 10), dpi=100)
sns.scatterplot(data=frame, x="sample", y="adc", color="black", marker="o",
                s=20, linewidth=0, label=SERIES_LABEL, ax=ax)
ax.grid(True)
ax.set_axisbelow(True)
ax.set_xlim(-480, 10347)
ax.set_ylim(6012.1, 6097.9)
ax.set_title(TITLE)
ax.set_xlabel(X_LABEL)
ax.set_ylabel(Y_LABEL)
ax.legend(loc="upper right")
fig.subplots_adjust(left=0.0805, right=0.985, top=0.965, bottom=0.058)
fig.savefig("out.png", dpi=100)
